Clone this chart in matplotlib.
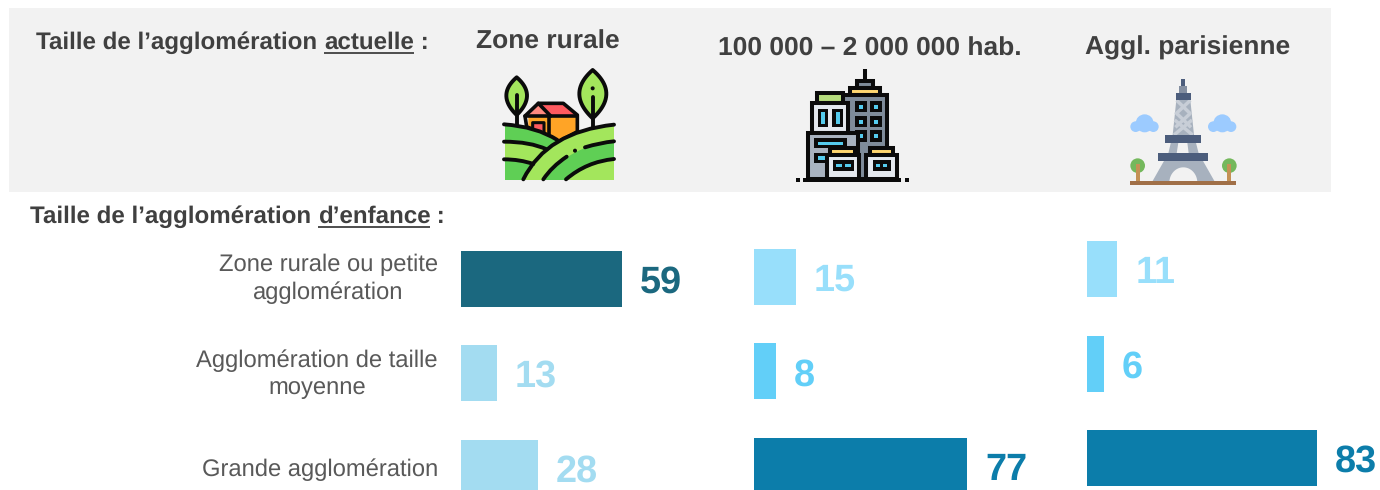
import numpy as np
import matplotlib
matplotlib.use("Agg")
import matplotlib.pyplot as plt
from matplotlib.patches import Polygon, Rectangle, Circle, PathPatch
from matplotlib.path import Path

plt.rcParams['font.family'] = ['Liberation Sans', 'DejaVu Sans']
plt.rcParams['text.hinting'] = 'none'

# ---- data ----
categories = ["Zone rurale ou petite\nagglomération", "Agglomération de taille\nmoyenne", "Grande agglomération"]
columns = ["Zone rurale", "100 000 – 2 000 000 hab.", "Aggl. parisienne"]
rural_values = [59, 13, 28]
city_values = [15, 8, 77]
paris_values = [11, 6, 83]
rural_colors = ["#1B687F", "#A3DCF1", "#A3DCF1"]
city_colors = ["#98DFFB", "#62CFF8", "#0C7DAA"]
paris_colors = ["#98DFFB", "#62CFF8", "#0C7DAA"]

W, H = 1380, 490
fig = plt.figure(figsize=(W / 100, H / 100), dpi=100, facecolor="white")
bg = fig.add_axes([0, 0, 1, 1])
bg.set_xlim(0, W)
bg.set_ylim(H, 0)
bg.axis("off")

bg.add_patch(Rectangle((9, 8), 1322, 184, fc="#F2F2F2", ec="none", zorder=0))

DARK = "#404040"
GREY = "#595959"


def under_text(x, y, parts, size=17.4):
    """parts: (string, underlined?)"""
    r = fig.canvas.get_renderer()
    for s, u in parts:
        t = bg.text(x, y, s.replace(" ", "\u00a0"), fontsize=size, fontweight="bold", color=DARK, ha="left", va="center")
        adv = t.get_window_extent(r).width
        if u:
            bg.plot([x, x + adv], [y + 9.7, y + 9.7], color=DARK, lw=1.3, solid_capstyle="butt")
        x += adv


under_text(36, 43, [("Taille de l’agglomération ", False), ("actuelle", True), (" :", False)])
under_text(30, 217, [("Taille de l’agglomération ", False), ("d’enfance", True), (" :", False)])

for name, x, y in zip(columns, [548, 870, 1188], [42, 49, 48]):
    bg.text(x, y, name, fontsize=19, fontweight="bold", color=DARK, ha="center", va="center")

for c, y in zip(categories, [279, 374, 470]):
    bg.text(438, y, c, fontsize=17.15, color=GREY, ha="right", va="center",
            multialignment="center", linespacing=1.3)

# ---- bars ----
PITCH = 94.5
for vals, cols, left, c0, scale in [(rural_values, rural_colors, 461.5, 278.5, 2.72),
                                    (city_values, city_colors, 754, 277, 2.77),
                                    (paris_values, paris_colors, 1087, 269, 2.77)]:
    aw = 280
    top = c0 - PITCH / 2
    ax = fig.add_axes([left / W, 1 - (top + 3 * PITCH) / H, aw / W, 3 * PITCH / H])
    ax.set_xlim(0, aw / scale)
    ax.set_ylim(2.5, -0.5)
    ax.axis("off")
    ax.patch.set_alpha(0)
    ax.barh(range(3), vals, height=56 / PITCH, color=cols, edgecolor="none", clip_on=False)
    for i, (v, col) in enumerate(zip(vals, cols)):
        ax.annotate(str(v), (v, i), xytext=(18 * 0.72, -4.5 * 0.72 + 0.5), textcoords="offset points",
                    fontsize=27.3, fontweight="bold", color=col, ha="left", va="center",
                    annotation_clip=False)

# ---- icons ----
BK = "#0B0B0B"


def zmap(ox, oy):
    return lambda pts: [(ox + x / 3, oy + y / 3) for x, y in pts]


def poly(z, pts, fc, ec="none", lw=0, zo=3):
    bg.add_patch(Polygon(z(pts), closed=True, fc=fc, ec=ec, lw=lw, zorder=zo, joinstyle="round"))


def rect(z, x0, y0, x1, y1, fc, ec="none", lw=0, zo=3):
    (a, b), (c, d) = z([(x0, y0), (x1, y1)])
    bg.add_patch(Rectangle((a, b), c - a, d - b, fc=fc, ec=ec, lw=lw, zorder=zo, joinstyle="miter"))


def curve(z, p0, c, p1, lw=2.8, zo=6, color=BK):
    pts = z([p0, c, p1])
    path = Path(pts, [Path.MOVETO, Path.CURVE3, Path.CURVE3])
    bg.add_patch(PathPatch(path, fc="none", ec=color, lw=lw, capstyle="round", zorder=zo))


def qb(p0, c, p1, n=24):
    t = np.linspace(0, 1, n)[:, None]
    p0, c, p1 = map(np.array, (p0, c, p1))
    return [tuple(p) for p in (1 - t) ** 2 * p0 + 2 * t * (1 - t) * c + t ** 2 * p1]


def line(z, p0, p1, lw=2.8, zo=6, color=BK, cap="round"):
    pts = z([p0, p1])
    bg.plot(*zip(*pts), color=color, lw=lw, solid_capstyle=cap, zorder=zo)


# rural icon
z = zmap(480, 60)
G1, G2 = "#5FCF55", "#A3E65C"
# trees
lt = qb((110, 52), (48, 105), (110, 165)) + qb((110, 165), (172, 105), (110, 52))
rt = qb((338, 30), (258, 100), (338, 175)) + qb((338, 175), (420, 100), (338, 30))
poly(z, lt, G2, ec=BK, lw=2.8, zo=2)
poly(z, rt, G2, ec=BK, lw=2.8, zo=2)
line(z, (110, 105), (110, 195), zo=2.6)
line(z, (338, 110), (338, 200), zo=2.6)
bg.add_patch(Circle(z([(338, 85)])[0], 2, fc=BK, ec="none", zorder=6))
# house
poly(z, [(140, 168), (175, 133), (208, 168)], "#FF8A80", zo=3.5)
poly(z, [(175, 132), (250, 132), (290, 165), (210, 165)], "#FF5A5F", zo=3.5)
poly(z, [(145, 168), (208, 168), (208, 225), (145, 205)], "#FFA426", zo=3.5)
poly(z, [(208, 168), (288, 168), (288, 215), (235, 240), (208, 222)], "#FFA426", zo=3.5)
poly(z, [(135, 168), (175, 130), (250, 130), (292, 165), (292, 215), (235, 245), (140, 200)],
     "none", ec=BK, lw=2.6, zo=3.6)
line(z, (175, 130), (212, 168), lw=2.6, zo=3.6)
line(z, (135, 168), (292, 168), lw=2.6, zo=3.6)
line(z, (208, 168), (208, 222), lw=2.6, zo=3.6)
poly(z, [(158, 188), (192, 188), (192, 225), (158, 210)], "#FF5A5F", ec=BK, lw=2.2, zo=3.6)
# hills
poly(z, qb((75, 195), (170, 200), (232, 240)) + [(402, 360), (75, 360)], G1, zo=3.7)
poly(z, qb((75, 245), (150, 248), (205, 272)) + [(160, 310)] + qb((160, 310), (120, 298), (75, 298)), G2, zo=3.8)
poly(z, [(130, 360)] + qb((130, 360), (200, 215), (402, 195)) + [(402, 360)], G2, zo=4)
poly(z, qb((190, 360), (270, 255), (402, 245)) + [(402, 297)] + qb((402, 297), (320, 305), (258, 360)), G1, zo=4.1)
curve(z, (72, 193), (170, 200), (232, 240))
curve(z, (72, 245), (150, 245), (200, 268))
curve(z, (72, 298), (120, 298), (160, 312))
curve(z, (130, 358), (200, 215), (402, 194))
curve(z, (190, 358), (215, 320), (260, 290))
curve(z, (258, 358), (320, 305), (402, 297))
curve(z, (315, 262), (360, 248), (402, 244))
bg.add_patch(Circle(z([(285, 272)])[0], 2, fc=BK, ec="none", zorder=6))

# city icon
z = zmap(780, 60)
LW = 2.9
GT, LT, PALE, YE, CY = "#7F8C9A", "#A9B3C0", "#E4E8EE", "#FFD770", "#55CCEE"
line(z, (255, 28), (255, 62), lw=LW, cap="butt", zo=3)
rect(z, 232, 64, 278, 85, GT, BK, LW)
rect(z, 210, 85, 300, 105, YE, BK, LW)
rect(z, 190, 105, 322, 358, GT, BK, LW)
for xc in (243, 288):
    for yc in (140, 185, 228):
        rect(z, xc - 17, yc - 17, xc + 17, yc + 17, BK, zo=3.1)
        rect(z, xc - 6, yc - 6, xc + 6, yc + 6, CY, zo=3.2)
rect(z, 112, 98, 190, 128, "#B5DC7C", BK, LW, zo=3.3)
rect(z, 95, 128, 205, 218, PALE, BK, LW, zo=3.3)
for a, b in ((113, 145), (157, 189)):
    rect(z, a, 147, b, 202, BK, zo=3.4)
    rect(z, a + 10, 157, b - 10, 192, CY, zo=3.5)
rect(z, 85, 218, 235, 358, LT, BK, LW, zo=3.6)
rect(z, 102, 235, 200, 265, BK, zo=3.7)
rect(z, 113, 245, 190, 256, CY, zo=3.8)
rect(z, 102, 280, 140, 310, BK, zo=3.7)
rect(z, 113, 289, 135, 300, CY, zo=3.8)
for (a, b, ca, cb, wa, wb, dots, hw) in [(140, 238, 150, 226, 158, 222, (176, 204), 9),
                                         (258, 350, 270, 338, 278, 332, (294, 316), 6)]:
    rect(z, ca, 265, cb, 285, YE, BK, LW, zo=4)
    rect(z, a, 285, b, 358, PALE, BK, LW, zo=4.1)
    rect(z, wa, 300, wb, 332, BK, zo=4.2)
    for d in dots:
        rect(z, d - hw, 311, d + hw, 321, CY, zo=4.3)
rect(z, 70, 354, 362, 366, BK, zo=5)
rect(z, 48, 354, 60, 366, BK, zo=5)
rect(z, 375, 354, 387, 366, BK, zo=5)

# Eiffel tower icon
z = zmap(1110, 70)
TG, TL, TD = "#A7B1BE", "#C8CED7", "#4C5D7C"
ang = np.linspace(np.pi, 0, 40)
arch = [(220 + 42 * np.cos(a), 338 - 46 * np.sin(a)) for a in ang]
poly(z, [(125, 338), (175, 250), (188, 195), (199, 90), (241, 90), (252, 195), (266, 250), (316, 338)], TG, zo=2)
poly(z, [(205, 218), (232, 218), (236, 250), (200, 250)], "#F2F2F2", zo=2.1)
poly(z, arch, "#F2F2F2", zo=2.1)
for yy in (91, 130):
    line(z, (200, yy), (243, yy + 42), lw=2.5, color=TL, cap="butt", zo=2.2)
    line(z, (241, yy), (196, yy + 42), lw=2.5, color=TL, cap="butt", zo=2.2)
line(z, (192, 195), (246, 150), lw=2.5, color=TL, cap="butt", zo=2.2)
line(z, (248, 195), (194, 150), lw=2.5, color=TL, cap="butt", zo=2.2)
rect(z, 165, 195, 273, 218, TD)
rect(z, 144, 249, 294, 272, TD)
rect(z, 198, 69, 243, 91, TD)
rect(z, 207, 48, 231, 69, "#848FA1")
rect(z, 213, 27, 225, 48, TD)
for cx in (83, 358):
    bg.add_patch(Circle(z([(cx, 287)])[0], 22 / 3, fc="#74B85C", ec="none", zorder=3))
    rect(z, cx - 6, 282, cx + 6, 335, "#C49155", zo=3.1)
rect(z, 60, 333, 378, 345, "#A06F47", zo=3.2)
for ox in (0, 233):
    for cx, cy, r in ((77, 170, 16), (104, 160, 27), (130, 170, 16)):
        bg.add_patch(Circle(z([(cx + ox, cy)])[0], r / 3, fc="#9CCBFF", ec="none", zorder=3))

fig.savefig("out.png", dpi=100, facecolor="white")
